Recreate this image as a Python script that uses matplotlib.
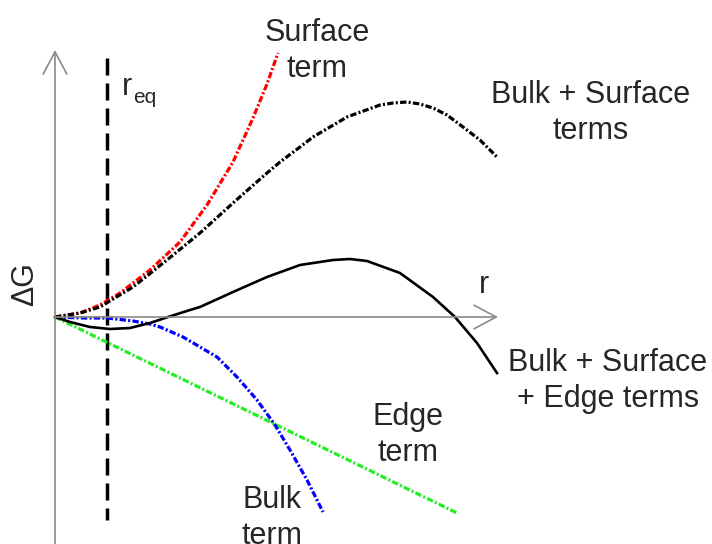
import matplotlib.pyplot as plt

plt.rcParams["font.family"] = ["Liberation Sans", "DejaVu Sans"]

# curve samples, r along the axis, dG upward (origin at the axes crossing)
surf_r = [0, 25, 45, 65, 95, 125, 152, 178, 198, 212, 223]
surf_g = [0, 4, 12, 24, 47, 75, 112, 155, 199, 233, 264]

bulk_surf_r = [0, 25, 45, 78, 112, 145, 178, 212, 225, 245, 258, 292, 325, 338, 352, 365,
               378, 392, 408, 425, 442]
bulk_surf_g = [0, 4, 10, 30, 57, 84, 114, 144, 155, 170, 180, 200, 212, 214, 215, 213,
               209, 202, 190, 177, 160]

total_r = [0, 15, 35, 55, 75, 95, 113, 135, 145, 178, 212, 245, 278, 295, 312, 345, 378,
           400, 422, 442]
total_g = [0, -5, -10, -12, -11, -6, 0, 7, 10, 25, 40, 52, 57, 58, 56, 44, 20, 0, -26, -56]

bulk_r = [0, 28, 52, 78, 95, 105, 128, 162, 182, 202, 220, 235, 252, 268]
bulk_g = [0, -1, -1, -4, -7, -10, -20, -40, -60, -83, -108, -133, -163, -195]

edge_r = [0, 402]
edge_g = [0, -196]

r_eq = 52

txt = "#262626"
axis_col = "#8a8a8a"
dashdot = (0, (2.0, 0.7, 0.65, 0.7))

fig = plt.figure(figsize=(7.12, 5.44), dpi=100)
ax = fig.add_axes([0, 0, 1, 1])
ax.set_xlim(-55, 657)
ax.set_ylim(-227, 317)
ax.axis("off")

# axes with open arrow heads
arrow = dict(arrowstyle="->,head_length=1.6,head_width=0.85", color=axis_col,
             lw=1.2, mutation_scale=10, shrinkA=0, shrinkB=0)
ax.annotate("", xy=(0, 267), xytext=(0, -230), arrowprops=arrow)
ax.annotate("", xy=(443, 0), xytext=(0, 0), arrowprops=arrow)

ax.plot([r_eq, r_eq], [259, -203], color="black", lw=2.5, ls=(0, (4.9, 2.3)))

ax.plot(edge_r, edge_g, color="#22ee22", lw=2.3, ls=dashdot)
ax.plot(bulk_r, bulk_g, color="#0000ff", lw=2.3, ls=dashdot)
ax.plot(surf_r, surf_g, color="#ff0000", lw=2.3, ls=dashdot)
ax.plot(bulk_surf_r, bulk_surf_g, color="black", lw=2.3, ls=dashdot)
ax.plot(total_r, total_g, color="black", lw=1.9, solid_joinstyle="round")

fs = 22
kw = dict(fontsize=fs, color=txt, ha="center", va="top", linespacing=1.25)
ax.text(262, 299, "Surface\nterm", **kw)
ax.text(536, 237, "Bulk + Surface\nterms", **kw)
ax.text(553, -31, "Bulk + Surface\n+ Edge terms", **kw)
ax.text(353, -85, "Edge\nterm", **kw)
ax.text(217, -168, "Bulk\nterm", **kw)

ax.text(429, 24, "r", fontsize=fs, color=txt, ha="center", va="baseline")
ax.text(-30, 33, "ΔG", fontsize=fs, color=txt, ha="center", va="center", rotation=90)
ax.text(67, 222, "r", fontsize=fs, color=txt, ha="left", va="baseline")
ax.text(78, 214, "eq", fontsize=15, color=txt, ha="left", va="baseline")

fig.savefig("out.png", dpi=100)
